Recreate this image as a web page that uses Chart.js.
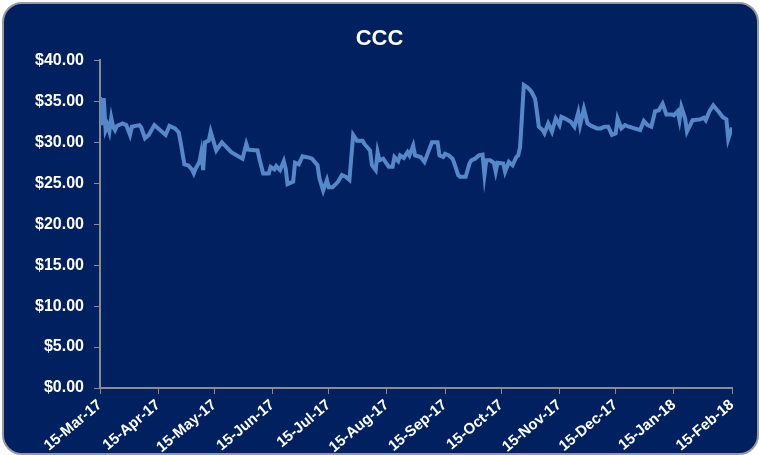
<!DOCTYPE html>
<html>
<head>
<meta charset="utf-8">
<script src="https://cdn.jsdelivr.net/npm/chart.js@4"></script>
<style>
	html, body { margin: 0; padding: 0; background: #ffffff; }
	#frame {
		position: absolute; left: 2px; top: 2px; width: 753px; height: 449px;
		background: #002060; border: 2px solid #9a9a9a; border-radius: 20px;
	}
	#myChart { position: absolute; left: 0; top: 0; }
</style>
</head>
<body>
<div id="frame"></div>
<canvas id="myChart" width="759" height="455"></canvas>
<script>
/* global Chart */
// days counted from 15-Mar-17
const startDate = '2017-03-15';
const dayOffsets = [0, 1, 2, 3, 4, 5, 6, 7, 8, 9, 12, 14, 16, 17, 19, 21, 22, 24, 26, 29, 32, 35, 37, 40, 42, 43, 45, 47, 49, 50, 51, 53, 54, 55, 56, 58, 59, 62, 65, 70, 73, 76, 78, 79, 84, 85, 87, 90, 91, 93, 94, 96, 98, 99, 100, 103, 104, 106, 108, 112, 113, 116, 117, 119, 121, 122, 124, 127, 129, 131, 133, 135, 137, 140, 141, 144, 145, 147, 148, 149, 151, 154, 156, 157, 159, 160, 162, 164, 165, 167, 168, 171, 173, 175, 176, 177, 180, 181, 183, 184, 186, 188, 189, 191, 192, 195, 197, 198, 200, 202, 204, 205, 206, 208, 210, 211, 212, 215, 216, 218, 220, 222, 223, 224, 226, 228, 230, 232, 233, 234, 236, 237, 239, 241, 243, 245, 246, 248, 251, 253, 255, 256, 258, 260, 262, 265, 267, 269, 271, 273, 275, 276, 278, 280, 282, 285, 288, 290, 292, 294, 296, 298, 300, 302, 305, 306, 308, 309, 310, 312, 313, 316, 320, 322, 323, 325, 327, 330, 332, 334, 335, 337];
const prices = [35.5, 32.1, 35.4, 31.5, 32.1, 31.3, 33.0, 31.9, 31.5, 32.0, 32.3, 32.1, 30.9, 31.9, 32.0, 32.1, 31.8, 30.5, 30.9, 32.1, 31.5, 30.9, 32.0, 31.7, 31.2, 30.0, 27.3, 27.2, 26.7, 26.2, 26.8, 27.6, 28.8, 26.6, 30.0, 30.2, 31.3, 29.0, 30.0, 28.8, 28.4, 28.0, 29.8, 29.1, 29.0, 28.0, 26.2, 26.2, 27.0, 26.7, 27.1, 26.6, 27.7, 26.8, 24.9, 25.2, 27.5, 27.3, 28.3, 28.1, 28.0, 27.2, 25.6, 24.1, 25.4, 24.5, 24.5, 25.2, 26.0, 25.8, 25.4, 30.9, 30.2, 30.2, 29.8, 29.0, 27.2, 26.6, 28.8, 27.8, 28.0, 27.0, 27.0, 28.2, 27.7, 28.4, 28.1, 28.8, 28.4, 29.6, 28.4, 28.2, 27.6, 28.8, 29.4, 30.0, 30.0, 28.4, 28.2, 28.6, 28.4, 28.0, 27.4, 26.0, 25.8, 25.8, 27.4, 27.8, 28.0, 28.4, 28.5, 26.0, 27.8, 27.8, 27.5, 26.4, 27.5, 27.4, 26.4, 27.6, 27.2, 28.2, 28.4, 29.4, 37.0, 36.7, 36.2, 35.3, 33.7, 31.9, 31.5, 31.1, 32.3, 31.3, 32.9, 32.1, 33.1, 32.9, 32.5, 31.9, 33.6, 32.1, 34.1, 32.3, 32.0, 31.7, 31.7, 31.9, 31.9, 30.9, 31.1, 32.9, 31.7, 32.1, 31.9, 31.7, 31.5, 32.6, 32.1, 31.9, 33.8, 33.9, 34.7, 33.4, 33.4, 33.3, 33.8, 32.7, 34.3, 32.9, 31.3, 32.7, 32.8, 33.0, 32.7, 33.8, 34.5, 33.7, 33.1, 32.8, 30.4, 31.8];

const tickDays = [0, 31, 61, 92, 122, 153, 184, 214, 245, 275, 306, 337];
const tickLabels = ['15-Mar-17', '15-Apr-17', '15-May-17', '15-Jun-17', '15-Jul-17', '15-Aug-17', '15-Sep-17', '15-Oct-17', '15-Nov-17', '15-Dec-17', '15-Jan-18', '15-Feb-18'];

Chart.defaults.font.family = 'Arial, "Liberation Sans", sans-serif';
Chart.defaults.color = '#ffffff';

const axisGrey = '#8c8c8c';
const ctx = document.getElementById('myChart').getContext('2d');

new Chart(ctx, {
	type: 'line',
	data: {
		datasets: [
			{
				label: 'CCC',
				data: dayOffsets.map((d, i) => ({ x: d, y: prices[i] })),
				borderColor: '#5588c8',
				borderWidth: 4,
				pointRadius: 0,
				tension: 0,
				fill: false
			}
		]
	},
	options: {
		responsive: false,
		animation: false,
		layout: { padding: 0 },
		plugins: {
			legend: { display: false },
			tooltip: { enabled: false },
			title: {
				display: true,
				text: 'CCC',
				color: '#ffffff',
				font: { size: 22, weight: 'bold' },
				padding: { top: 26, bottom: 8 }
			}
		},
		scales: {
			x: {
				type: 'linear',
				min: 0,
				max: 337,
				afterBuildTicks: (scale) => {
					scale.ticks = tickDays.map((v) => ({ value: v }));
				},
				afterFit: (scale) => {
					scale.height = 67;
					scale.paddingRight = 27;
				},
				ticks: {
					autoSkip: false,
					maxRotation: 40,
					minRotation: 40,
					padding: 2,
					color: '#ffffff',
					font: { size: 15, weight: 'bold' },
					callback: (value) => tickLabels[tickDays.indexOf(value)]
				},
				grid: { drawOnChartArea: false, tickLength: 6, color: axisGrey },
				border: { color: axisGrey, width: 2 }
			},
			y: {
				min: 0,
				max: 40,
				afterFit: (scale) => { scale.width = 100; },
				ticks: {
					stepSize: 5,
					padding: 10,
					color: '#ffffff',
					font: { size: 16, weight: 'bold' },
					callback: (value) => '$' + value.toFixed(2)
				},
				grid: { drawOnChartArea: false, tickLength: 6, color: axisGrey },
				border: { color: axisGrey, width: 2 }
			}
		}
	}
});
</script>
</body>
</html>
